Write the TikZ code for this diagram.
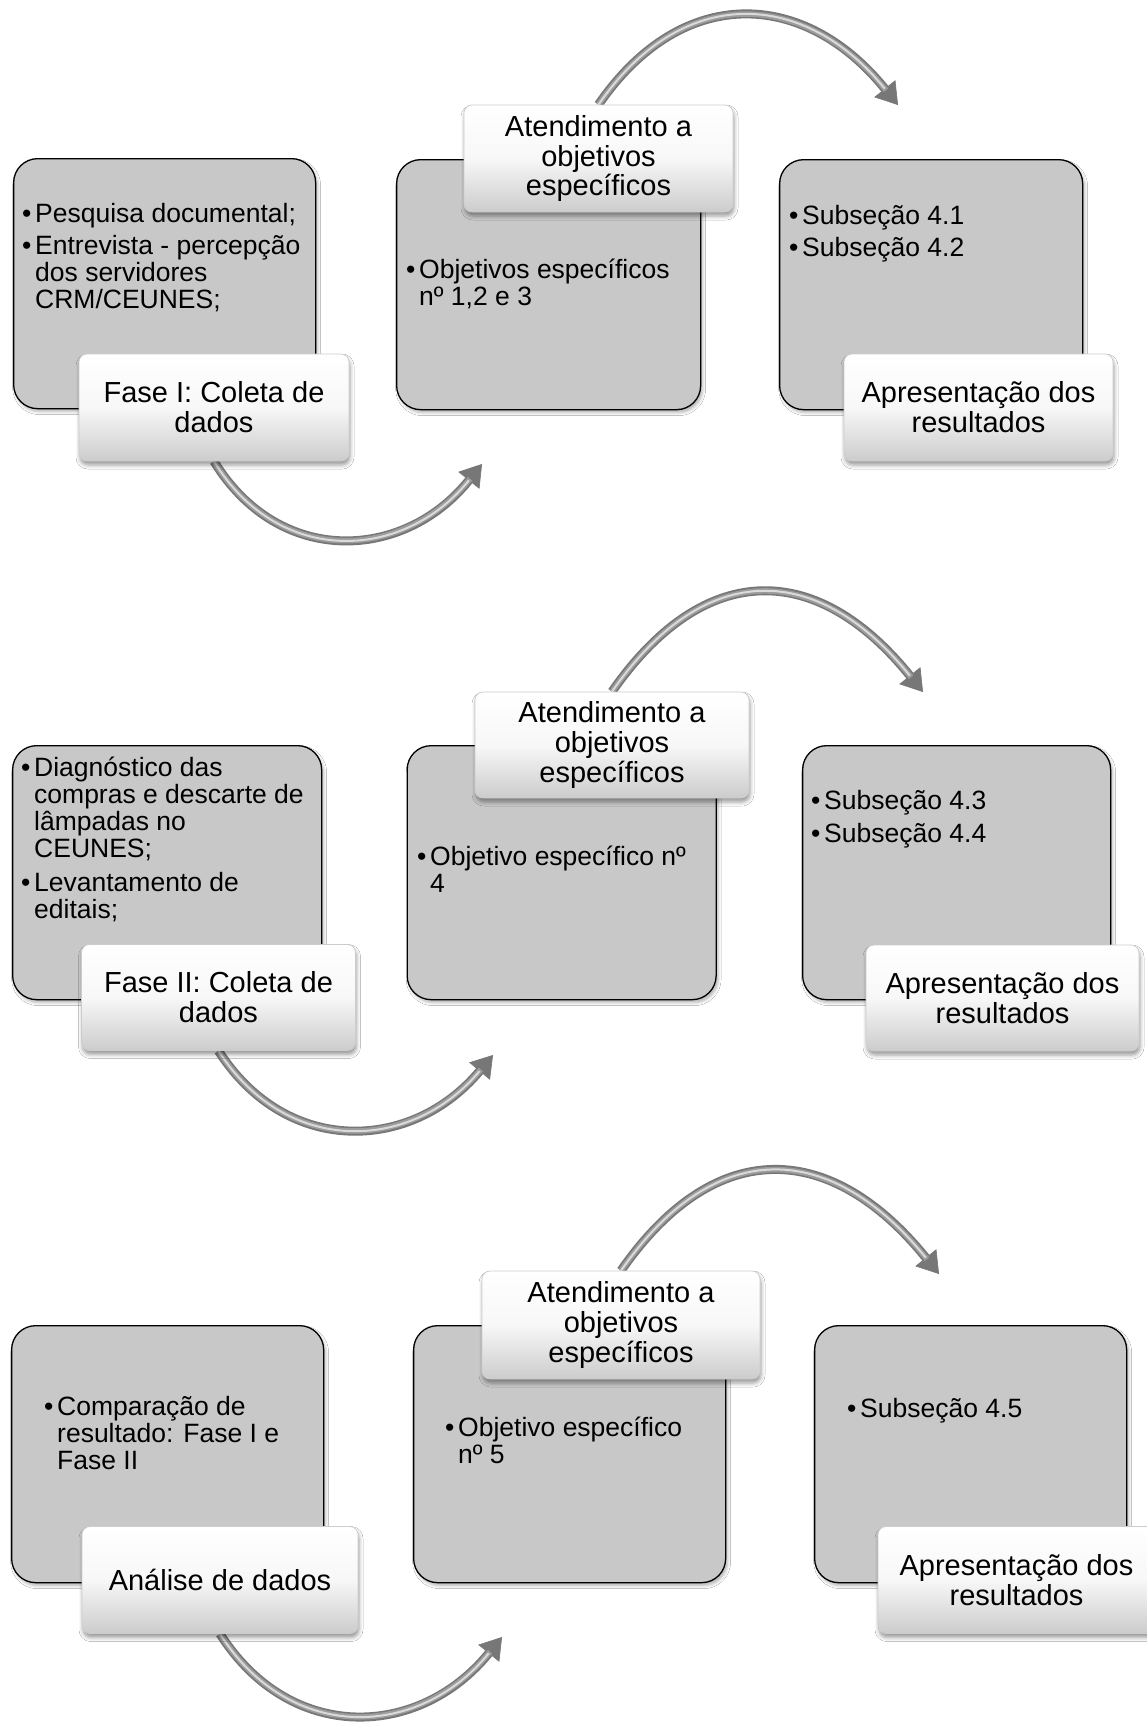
\documentclass[tikz,border=0pt]{standalone}
\usepackage{fontspec}
\setmainfont{Liberation Sans}
\usetikzlibrary{arrows.meta,shadows.blur}
\pgfdeclarelayer{back}
\pgfsetlayers{back,main}
\definecolor{boxgray}{HTML}{C8C8C8}
\definecolor{tubeedge}{HTML}{777777}
\definecolor{tubemid}{HTML}{9C9C9C}
\definecolor{tubelight}{HTML}{DADADA}
\newcommand\bul{\makebox[13pt][l]{•}}
\newcommand\ind{\hspace*{13pt}}
\newcommand\tlines[1]{\vtop{\baselineskip=27pt\lineskiplimit=-100pt\lineskip=0pt\halign{##\hfil\cr#1\crcr}}}
\newcommand\gap[1]{\noalign{\vskip#1}}
\begin{document}
\begin{tikzpicture}[x=1pt,y=-1pt,
  graybox/.style={draw=black, line width=1.3pt, fill=boxgray, rounded corners=24pt,
    anchor=north west, inner sep=0pt,
    blur shadow={shadow xshift=2pt, shadow yshift=-3pt, shadow blur radius=3pt, shadow opacity=30}},
  lbl/.style={draw=black!20, line width=0.75pt, rounded corners=8pt,
    top color=white, bottom color=black!20, middle color=black!3,
    align=center, inner sep=0pt, font=\fontsize{29}{29.8}\selectfont,
    blur shadow={shadow xshift=1pt, shadow yshift=-4pt, shadow blur radius=4pt, shadow opacity=40}},
  bodytxt/.style={anchor=base west, inner sep=0pt, font=\fontsize{26.5}{27}\selectfont},
  tube/.style={draw=tubeedge, line width=9pt,
    -{Triangle[width=27pt,length=21pt,line width=0.6pt]},
    postaction={draw=tubemid, line width=5.5pt, -, shorten >=19pt},
    postaction={draw=tubelight, line width=2pt, -, shorten >=21pt}}
]
\useasboundingbox (0,0) rectangle (1147,1722);

% ---------- Section 1 ----------
\node[graybox, minimum width=302pt, minimum height=250pt] (b1a) at (13,158) {};
\node[graybox, minimum width=304pt, minimum height=250pt] (b1b) at (396,159) {};
\node[graybox, minimum width=303pt, minimum height=250pt] (b1c) at (779,159) {};

\node[lbl, minimum width=270pt, minimum height=107pt] (l1a) at (214,407.5) {Fase I: Coleta de\\dados};
\node[lbl, minimum width=269pt, minimum height=107pt] (l1b) at (598.5,158.5) {Atendimento a\\objetivos\\específicos};
\node[lbl, minimum width=269pt, minimum height=107pt] (l1c) at (978.5,407.5) {Apresentação dos\\resultados};

\node[bodytxt] (t1a) at (22,222) {\tlines{\bul Pesquisa documental;\cr\gap{5.5pt}\bul Entrevista - percepção\cr\ind dos servidores\cr\ind CRM/CEUNES;}};
\node[bodytxt] (t1b) at (406,278) {\tlines{\bul Objetivos específicos\cr\ind nº 1,2 e 3}};
\node[bodytxt] (t1c) at (789,224) {\tlines{\bul Subseção 4.1\cr\gap{5pt}\bul Subseção 4.2}};

% ---------- Section 2 ----------
\node[graybox, minimum width=309pt, minimum height=254pt] (b2a) at (12,745) {};
\node[graybox, minimum width=309pt, minimum height=254pt] (b2b) at (406.5,745) {};
\node[graybox, minimum width=308pt, minimum height=254pt] (b2c) at (802,745) {};

\node[lbl, minimum width=274pt, minimum height=106pt] (l2a) at (218.5,997.5) {Fase II: Coleta de\\dados};
\node[lbl, minimum width=274pt, minimum height=106pt] (l2b) at (612,745) {Atendimento a\\objetivos\\específicos};
\node[lbl, minimum width=273pt, minimum height=106pt] (l2c) at (1002.5,998) {Apresentação dos\\resultados};

\node[bodytxt] (t2a) at (21,776) {\tlines{\bul Diagnóstico das\cr\ind compras e descarte de\cr\ind lâmpadas no\cr\ind CEUNES;\cr\gap{7pt}\bul Levantamento de\cr\ind editais;}};
\node[bodytxt] (t2b) at (417,865.5) {\tlines{\bul Objetivo específico nº\cr\ind 4}};
\node[bodytxt] (t2c) at (811,809.5) {\tlines{\bul Subseção 4.3\cr\gap{6pt}\bul Subseção 4.4}};

% ---------- Section 3 ----------
\node[graybox, minimum width=312pt, minimum height=257pt] (b3a) at (11,1325) {};
\node[graybox, minimum width=312pt, minimum height=257pt] (b3b) at (413,1325) {};
\node[graybox, minimum width=312pt, minimum height=257pt] (b3c) at (814,1325) {};

\node[lbl, minimum width=276pt, minimum height=107pt] (l3a) at (220,1580) {Análise de dados};
\node[lbl, minimum width=278pt, minimum height=108pt] (l3b) at (621,1325) {Atendimento a\\objetivos\\específicos};
\node[lbl, minimum width=277pt, minimum height=107pt] (l3c) at (1016.5,1580) {Apresentação dos\\resultados};

\node[bodytxt] (t3a) at (44,1415) {\tlines{\bul Comparação de\cr\ind resultado: Fase I e\cr\ind Fase II}};
\node[bodytxt] (t3b) at (445,1436) {\tlines{\bul Objetivo específico\cr\ind nº 5}};
\node[bodytxt] (t3c) at (847,1417) {\tlines{\bul Subseção 4.5}};

% ---------- Curved arrows ----------
\coordinate (e1a) at (482,464);
\coordinate (e1b) at (898,105);
\coordinate (e2a) at (493,1055);
\coordinate (e2b) at (923,692);
\coordinate (e3a) at (502,1637);
\coordinate (e3b) at (939,1274);

\begin{pgfonlayer}{back}
\fill[white] (0,0) rectangle (1147,1722);
\draw[tube] (l1a.south) .. controls +(65,106) and +(-78,97) .. (e1a);
\draw[tube] (l1b.north) .. controls +(84,-122) and +(-93,-115) .. (e1b);
\draw[tube] (l2a.south) .. controls +(68,106) and +(-81,97) .. (e2a);
\draw[tube] (l2b.north) .. controls +(94,-135) and +(-104,-129) .. (e2b);
\draw[tube] (l3a.south) .. controls +(70,110) and +(-83,102) .. (e3a);
\draw[tube] (l3b.north) .. controls +(96,-138) and +(-106,-131) .. (e3b);
\end{pgfonlayer}
\end{tikzpicture}
\end{document}
